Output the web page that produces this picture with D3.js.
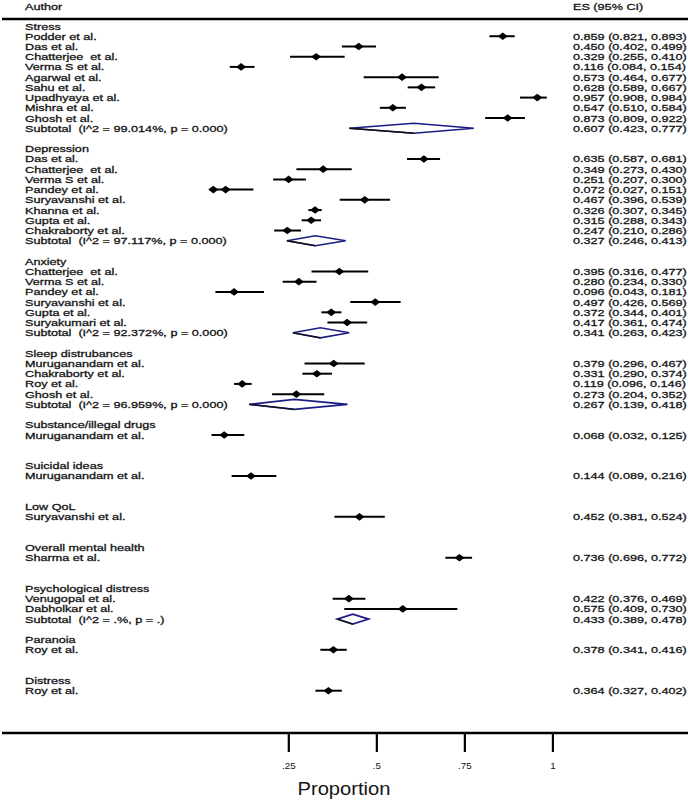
<!DOCTYPE html>
<html>
<head>
<meta charset="utf-8">
<script src="https://cdn.jsdelivr.net/npm/d3@7"></script>
<style>
  html, body { margin: 0; padding: 0; background: #fff; }
  svg { display: block; }
  text { font-family: "Liberation Sans", Arial, sans-serif; fill: #141414; white-space: pre; }
</style>
</head>
<body>
<svg id="chart" width="688" height="800"></svg>
<script>
// ---------------- DATA ----------------
const groups = ["Stress", "Depression", "Anxiety", "Sleep distrubances", "Substance/illegal drugs",
  "Suicidal ideas", "Low QoL", "Overall mental health", "Psychological distress", "Paranoia", "Distress"];

const studyGroup = [0,0,0,0,0,0,0,0,0,
  1,1,1,1,1,1,1,1,
  2,2,2,2,2,2,
  3,3,3,3,
  4, 5, 6, 7, 8,8, 9, 10];
const studyNames = ["Podder et al.", "Das et al.", "Chatterjee  et al.", "Verma S et al.", "Agarwal et al.",
  "Sahu et al.", "Upadhyaya et al.", "Mishra et al.", "Ghosh et al.",
  "Das et al.", "Chatterjee  et al.", "Verma S et al.", "Pandey et al.", "Suryavanshi et al.",
  "Khanna et al.", "Gupta et al.", "Chakraborty et al.",
  "Chatterjee  et al.", "Verma S et al.", "Pandey et al.", "Suryavanshi et al.", "Gupta et al.", "Suryakumari et al.",
  "Muruganandam et al.", "Chakraborty et al.", "Roy et al.", "Ghosh et al.",
  "Muruganandam et al.", "Muruganandam et al.", "Suryavanshi et al.", "Sharma et al.",
  "Venugopal et al.", "Dabholkar et al.", "Roy et al.", "Roy et al."];
const studyES = [0.859, 0.450, 0.329, 0.116, 0.573, 0.628, 0.957, 0.547, 0.873,
  0.635, 0.349, 0.251, 0.072, 0.467, 0.326, 0.315, 0.247,
  0.395, 0.280, 0.096, 0.497, 0.372, 0.417,
  0.379, 0.331, 0.119, 0.273,
  0.068, 0.144, 0.452, 0.736, 0.422, 0.575, 0.378, 0.364];
const studyLo = [0.821, 0.402, 0.255, 0.084, 0.464, 0.589, 0.908, 0.510, 0.809,
  0.587, 0.273, 0.207, 0.027, 0.396, 0.307, 0.288, 0.210,
  0.316, 0.234, 0.043, 0.426, 0.344, 0.361,
  0.296, 0.290, 0.096, 0.204,
  0.032, 0.089, 0.381, 0.696, 0.376, 0.409, 0.341, 0.327];
const studyHi = [0.893, 0.499, 0.410, 0.154, 0.677, 0.667, 0.984, 0.584, 0.922,
  0.681, 0.430, 0.300, 0.151, 0.539, 0.345, 0.343, 0.286,
  0.477, 0.330, 0.181, 0.569, 0.401, 0.474,
  0.467, 0.374, 0.146, 0.352,
  0.125, 0.216, 0.524, 0.772, 0.469, 0.730, 0.416, 0.402];
// a second (overlapping) marker drawn on the Pandey et al. depression row in the original
const extraMarkerStudy = [12];
const extraMarkerES = [0.037];

const subtotalGroup = [0, 1, 2, 3, 8];
const subtotalText = ["Subtotal  (I^2 = 99.014%, p = 0.000)", "Subtotal  (I^2 = 97.117%, p = 0.000)",
  "Subtotal  (I^2 = 92.372%, p = 0.000)", "Subtotal  (I^2 = 96.959%, p = 0.000)", "Subtotal  (I^2 = .%, p = .)"];
const subtotalES = [0.607, 0.327, 0.341, 0.267, 0.433];
const subtotalLo = [0.423, 0.246, 0.263, 0.139, 0.389];
const subtotalHi = [0.777, 0.413, 0.423, 0.418, 0.478];

const tickValues = [0.25, 0.5, 0.75, 1];
const tickLabels = [".25", ".5", ".75", "1"];
const xTitle = "Proportion";
const headerLeft = "Author";
const headerRight = "ES (95% CI)";

// ---------------- LAYOUT ----------------
const svg = d3.select("#chart");
const W = 688;
const labelX = 25;
const valueX = 573;
const fontSize = 9.8;
const stretchX = 1.29;

// horizontally stretch a text (the original's text is wide and short)
function stretch(sel, f) {
  sel.each(function () {
    const len = this.getComputedTextLength();
    d3.select(this).attr("textLength", len * f).attr("lengthAdjust", "spacingAndGlyphs");
  });
  return sel;
}
function addText(parent, xx, yy, str, size) {
  const t = parent.append("text").attr("x", xx).attr("y", yy).attr("dy", "0.36em")
    .attr("font-size", size).attr("stroke", "#141414").attr("stroke-width", 0.3).text(str);
  stretch(t, stretchX);
  return t;
}

// build row list
const rows = [];
let r = 0;
groups.forEach((g, gi) => {
  rows.push({type: "header", row: r++, text: g});
  studyGroup.forEach((sg, si) => {
    if (sg === gi) rows.push({type: "study", row: r++, i: si});
  });
  const sIdx = subtotalGroup.indexOf(gi);
  if (sIdx >= 0) rows.push({type: "subtotal", row: r++, i: sIdx});
  else r++;
  r++; // blank
});
const lastRow = rows[rows.length - 1].row;

const x = d3.scaleLinear().domain([0.25, 1]).range([288.3, 552.4]);
const y = d3.scaleLinear().domain([0, lastRow]).range([26, 690.7]);

const fmt = d3.format(".3f");
const ciText = (e, l, h) => `${fmt(e)} (${fmt(l)}, ${fmt(h)})`;

// header
addText(svg, labelX, 6, headerLeft, fontSize);
addText(svg, valueX, 6, headerRight, fontSize);
svg.append("line").attr("x1", 2).attr("x2", W).attr("y1", 19).attr("y2", 19)
  .attr("stroke", "#000").attr("stroke-width", 2.5);

// row texts
const g = svg.append("g");
rows.forEach(d => {
  const yy = y(d.row);
  let label, val = null;
  if (d.type === "header") label = d.text;
  else if (d.type === "study") { label = studyNames[d.i]; val = ciText(studyES[d.i], studyLo[d.i], studyHi[d.i]); }
  else { label = subtotalText[d.i]; val = ciText(subtotalES[d.i], subtotalLo[d.i], subtotalHi[d.i]); }
  addText(g, labelX, yy, label, fontSize);
  if (val) addText(g, valueX, yy, val, fontSize);
});

// study CIs and markers
const mw = 5, mh = 3.8;
const diamondPath = (cx, cy, hw, hh) => `M${cx - hw},${cy}L${cx},${cy - hh}L${cx + hw},${cy}L${cx},${cy + hh}Z`;
rows.filter(d => d.type === "study").forEach(d => {
  const yy = y(d.row);
  g.append("line").attr("x1", x(studyLo[d.i])).attr("x2", x(studyHi[d.i]))
    .attr("y1", yy).attr("y2", yy).attr("stroke", "#000").attr("stroke-width", 2);
  g.append("path").attr("d", diamondPath(x(studyES[d.i]), yy, mw, mh)).attr("fill", "#000");
  const k = extraMarkerStudy.indexOf(d.i);
  if (k >= 0) g.append("path").attr("d", diamondPath(x(extraMarkerES[k]), yy, mw, mh)).attr("fill", "#000");
});

// subtotal diamonds
rows.filter(d => d.type === "subtotal").forEach(d => {
  const yy = y(d.row);
  const l = x(subtotalLo[d.i]), h = x(subtotalHi[d.i]), c = x(subtotalES[d.i]);
  g.append("path").attr("d", `M${l},${yy}L${c},${yy - 5}L${h},${yy}L${c},${yy + 5}Z`)
    .attr("fill", "#fff").attr("stroke", "#1c1c86").attr("stroke-width", 1.7);
  g.append("line").attr("x1", l).attr("y1", yy).attr("x2", c).attr("y2", yy + 5)
    .attr("stroke", "#111").attr("stroke-width", 1.3);
});

// x axis
const axisY = 733;
svg.append("line").attr("x1", 2).attr("x2", W).attr("y1", axisY).attr("y2", axisY)
  .attr("stroke", "#000").attr("stroke-width", 2.5);
const axis = d3.axisBottom(x).tickValues(tickValues)
  .tickFormat((d, i) => tickLabels[i]).tickSize(19).tickSizeOuter(0).tickPadding(11);
const ax = svg.append("g").attr("transform", `translate(0,${axisY})`).call(axis);
ax.select(".domain").remove();
ax.selectAll(".tick line").attr("stroke", "#000").attr("stroke-width", 2.2);
ax.selectAll(".tick text").attr("font-size", 8.5).attr("font-family", "Liberation Sans, Arial, sans-serif")
  .attr("fill", "#141414");
stretch(ax.selectAll(".tick text"), 1.15);

const title = svg.append("text").attr("x", 344).attr("y", 795).attr("text-anchor", "middle")
  .attr("font-size", 18).attr("fill", "#141414").text(xTitle);
stretch(title, 1.12);
</script>
</body>
</html>
